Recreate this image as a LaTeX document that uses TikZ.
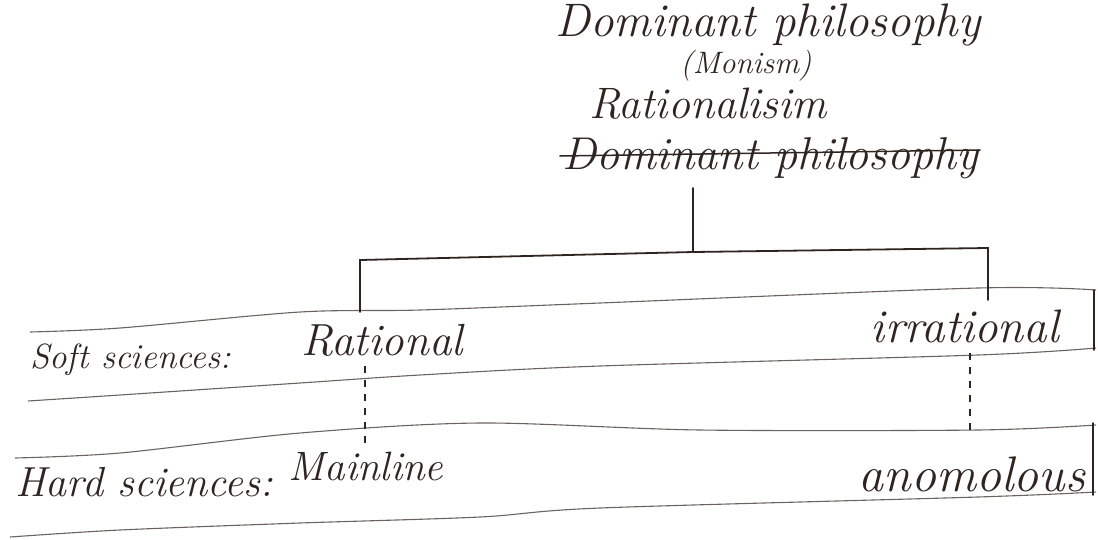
\documentclass[tikz,border=0pt]{standalone}
\begin{document}
\definecolor{inkc}{HTML}{2E2420}
\definecolor{rulec}{HTML}{6A6460}
\begin{tikzpicture}[x=1pt,y=-1pt,
  hw/.style={text=inkc, inner sep=0pt, font=\itshape},
  ink/.style={draw=inkc, line width=1.8pt, line cap=round},
  rule/.style={draw=rulec, line width=1.1pt},
  dotline/.style={draw=inkc, line width=1.5pt, dash pattern=on 7pt off 7pt}]
\useasboundingbox (0,0) rectangle (1098,539);
% ruled lines
\draw[rule] plot[smooth] coordinates {(30,332) (120,328) (300,312) (420,310) (600,303) (978,288) (1096,290)};
\draw[rule] plot[smooth] coordinates {(28,401) (120,395) (300,383) (420,375) (600,366) (978,355) (1096,348)};
\draw[rule] plot[smooth] coordinates {(15,458) (120,453) (300,433) (480,423) (700,430) (978,430) (1096,425)};
\draw[rule] plot[smooth] coordinates {(10,537) (120,530) (300,523) (480,517) (600,508) (978,497) (1096,492)};
\draw[ink] (1094,290) -- (1094,350);
\draw[ink] (1093,423) -- (1093,495);
% top texts
\node[hw, font=\fontsize{47}{52}\selectfont\itshape] (dom) at (768,25) {Dominant philosophy};
\node[hw, font=\fontsize{31}{34}\selectfont\itshape] (mon) at (746,66) {(Monism)};
\node[hw, font=\fontsize{44}{48}\selectfont\itshape] (rat) at (708,104) {Rationalisim};
\node[hw, font=\fontsize{46}{50}\selectfont\itshape] (old) at (770,158) {Dominant philosophy};
\draw[ink, line width=1.5pt] ([xshift=-2pt,yshift=2pt]old.west) -- ([xshift=2pt,yshift=8pt]old.east);
% bracket
\coordinate (jtop) at (693,188);
\coordinate (j) at (693,252);
\coordinate (bl) at (360,260);
\coordinate (br) at (988,248);
\coordinate (blb) at (360,312);
\coordinate (brb) at (988,300);
\draw[ink] (jtop) -- (j);
\draw[ink] (blb) -- (bl) -- (j) -- (br) -- (brb);
% row texts
\node[hw, font=\fontsize{35}{39}\selectfont\itshape, anchor=west] (soft) at (30,360) {Soft sciences:};
\node[hw, font=\fontsize{45}{49}\selectfont\itshape] (rl) at (382,340) {Rational};
\node[hw, font=\fontsize{47}{51}\selectfont\itshape] (irr) at (965,326) {irrational};
\node[hw, font=\fontsize{42}{46}\selectfont\itshape, anchor=west] (hard) at (15,482) {Hard sciences:};
\node[hw, font=\fontsize{41}{45}\selectfont\itshape] (ml) at (366,466) {Mainline};
\node[hw, font=\fontsize{50}{54}\selectfont\itshape] (an) at (972,474) {anomolous};
\coordinate (rlb) at (365,366);
\coordinate (mlt) at (365,450);
\coordinate (irb) at (970,353);
\coordinate (ant) at (970,432);
\draw[dotline] (rlb) -- (mlt);
\draw[dotline] (irb) -- (ant);
\end{tikzpicture}
\end{document}
